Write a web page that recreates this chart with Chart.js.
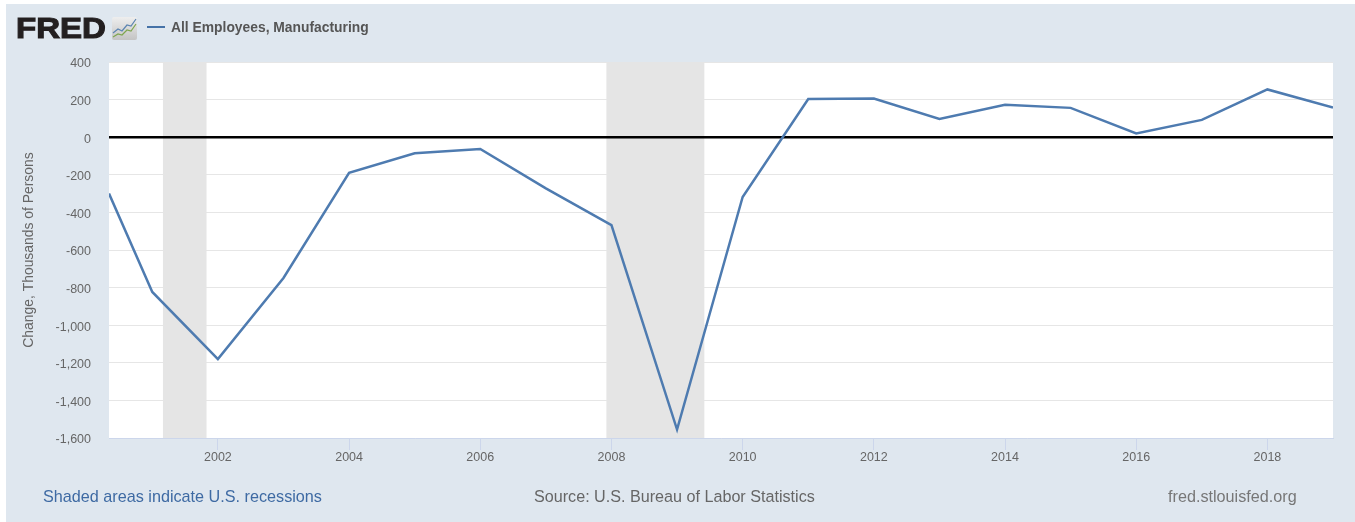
<!DOCTYPE html>
<html>
<head>
<meta charset="utf-8">
<style>
html,body{margin:0;padding:0;background:#fff;width:1355px;height:522px;overflow:hidden;font-family:"Liberation Sans",Arial,sans-serif}
#card{position:absolute;left:6px;top:4px;width:1349px;height:518px;background:#dfe7ef}
#c{position:absolute;left:0;top:0}
.t{position:absolute;white-space:nowrap}
#logo{left:16px;top:10px;font-size:29.5px;line-height:36px;font-weight:700;color:#231f20;-webkit-text-stroke:1.1px #231f20;transform-origin:left center;transform:scaleX(1.12)}
#legendLine{position:absolute;left:147px;top:26px;width:18px;height:2px;background:#4572a7}
#legend{left:171px;top:19px;font-size:13.85px;line-height:16px;font-weight:700;color:#555}
#f1{left:43px;top:487px;font-size:16.2px;line-height:18px;color:#3e6aa3}
#f2{left:534px;top:487px;font-size:16.15px;line-height:18px;color:#666}
#f3{left:1168px;top:487px;font-size:16.2px;line-height:18px;color:#777}
svg{position:absolute;left:112px;top:17px}
</style>
</head>
<body>
<div id="card"></div>
<canvas id="c" width="1355" height="522"></canvas>
<div class="t" id="logo">FRED</div>
<svg width="25" height="23" viewBox="0 0 25 23">
<defs><linearGradient id="g" x1="0" y1="0" x2="0" y2="1"><stop offset="0" stop-color="#eeeeee"/><stop offset="1" stop-color="#c4c4c4"/></linearGradient></defs>
<rect x="0" y="0" width="25" height="23" rx="2" fill="url(#g)"/>
<polyline points="1,16 6,12 10,14 15,8 19,9 24,2" fill="none" stroke="#5b84b1" stroke-width="1.2"/>
<polyline points="1,20 6,17 10,18 15,13 19,14 24,7" fill="none" stroke="#7fa650" stroke-width="1.2"/>
</svg>
<div id="legendLine"></div>
<div class="t" id="legend">All Employees, Manufacturing</div>
<div class="t" id="f1">Shaded areas indicate U.S. recessions</div>
<div class="t" id="f2">Source: U.S. Bureau of Labor Statistics</div>
<div class="t" id="f3">fred.stlouisfed.org</div>
<script src="https://cdn.jsdelivr.net/npm/chart.js@4"></script>
<script>
const years = [2000.34,2001,2002,2003,2004,2005,2006,2007,2008,2009,2010,2011,2012,2013,2014,2015,2016,2017,2018,2019];
const manufacturingChange = [-300,-823,-1180,-749,-190,-85,-63,-272,-468,-1555,-318,203,206,97,172,156,20,92,254,158];
const recession1 = [2001.16,2001.83];
const recession2 = [2007.92,2009.42];
const xTickYears = [2002,2004,2006,2008,2010,2012,2014,2016,2018];
const yMin = -1600, yMax = 400, yStep = 200;
const xMin = years[0], xMax = years[years.length-1];

const pts = years.map((x,i)=>({x, y:manufacturingChange[i]}));
const band = r => ({
  data:[{x:r[0],y:yMax},{x:r[1],y:yMax}],
  borderWidth:0, pointRadius:0, backgroundColor:'#e5e5e5', fill:'start', order:3
});
const font = {family:'"Liberation Sans",Arial,sans-serif', size:12.5};
const plotBackground = {
  id:'plotBackground',
  beforeDraw(chart){
    const a = chart.chartArea, ctx = chart.ctx;
    ctx.save(); ctx.fillStyle='#fff';
    ctx.fillRect(a.left,a.top,a.right-a.left,a.bottom-a.top);
    ctx.restore();
  }
};

new Chart(document.getElementById('c'),{
  type:'line',
  plugins:[plotBackground],
  data:{datasets:[
    band(recession1),
    band(recession2),
    {data:[{x:xMin,y:0},{x:xMax,y:0}], borderColor:'#000', borderWidth:2.4, pointRadius:0, order:2},
    {data:pts, borderColor:'#4e7bb0', borderWidth:2.5, pointRadius:0, tension:0, order:1}
  ]},
  options:{
    responsive:false, animation:false,
    layout:{padding:{left:0,top:62,right:22,bottom:0}},
    plugins:{legend:{display:false},tooltip:{enabled:false}},
    scales:{
      x:{
        type:'linear', min:xMin, max:xMax,
        afterBuildTicks:s=>{s.ticks=xTickYears.map(v=>({value:v}));},
        afterFit:s=>{s.height=84;},
        grid:{drawOnChartArea:false,drawTicks:true,tickLength:12,tickColor:'#ccd6eb',tickWidth:1},
        border:{color:'#ccd6eb',width:1},
        ticks:{color:'#666',font,padding:0,maxRotation:0,autoSkip:false,callback:v=>String(v)}
      },
      y:{
        min:yMin, max:yMax,
        afterFit:s=>{s.width=109;},
        grid:{color:'#e6e6e6',lineWidth:1,drawTicks:false},
        border:{display:false},
        ticks:{stepSize:yStep,color:'#666',font,padding:18,labelOffset:2,callback:v=>v.toLocaleString('en-US')},
        title:{display:true,text:'Change, Thousands of Persons',color:'#666',font:{family:font.family,size:13.9},padding:{top:21,bottom:0}}
      }
    }
  }
});
</script>
</body>
</html>
